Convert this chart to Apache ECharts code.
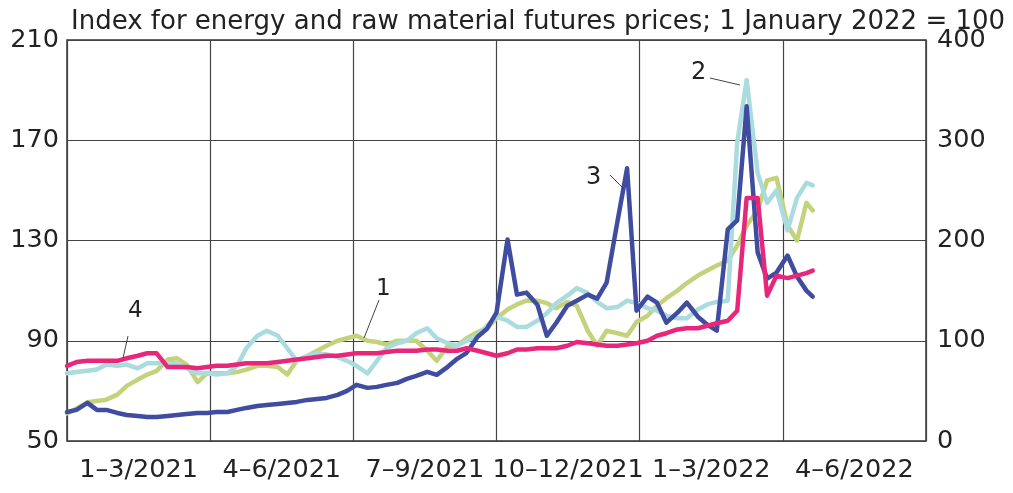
<!DOCTYPE html>
<html>
<head>
<meta charset="utf-8">
<script src="https://cdn.jsdelivr.net/npm/echarts@6/dist/echarts.min.js"></script>
<style>
html,body{margin:0;padding:0;background:#fff;}
#chart{width:1013px;height:493px;}
</style>
</head>
<body>
<div id="chart"></div>
<script>
// Quarter labels (category axis)
const quarters = ['1–3/2021','4–6/2021','7–9/2021','10–12/2021','1–3/2022','4–6/2022'];
// Left axis ticks / right axis ticks
const leftTicks = {min:50, max:210, interval:40};
const rightTicks = {min:0, max:400, interval:100};
// Days since 1 January 2021 (6 quarters ≈ 546 days)
const days = [0,6,13,19,25,32,38,45,51,57,64,70,76,83,89,95,102,108,114,121,127,134,140,146,153,159,165,172,178,184,191,197,203,210,216,222,229,235,242,248,254,261,267,273,280,286,292,299,305,311,318,324,331,337,343,350,356,362,369,375,381,388,394,401,407,413,420,426,432,439,445,451,458,464,470,474];
// Series 1 (left axis)
const s1 = [61,63,65.5,66,66.5,68.5,72,74.5,76.5,78,82.5,83,80.5,73.5,77,77,77,77.5,78.5,80,80,79.5,76.5,82,84,86,88,90,91,92,90,89.5,88.5,90,90,90,86,82,88,88,91,93.5,95,99,102.5,104.5,106,106,105,103,105.5,104,94,88,94,93,92,97.5,100,104,107,110,113,116,118,120,122,128,136,142,154,155,136,130,145,142];
// Series 2 (left axis)
const s2 = [77,77.5,78,78.5,80.5,80,80.5,79,81,81,81,81,79,77,77,76.5,77,80,87,92,94,92,87,82,84,85,84.5,83.5,82,80,77,82,87,89,90,93,95,91,89,88,90,92,96,99.5,98,95.5,95.5,98,101,105,108,111,109,105.5,103,103.5,106,105,103,102,100,99,99,102.5,104.5,105.5,106,169,194,157,145,150,134,147,153,152];
// Series 3 (right axis)
const s3 = [29,31,38,31,31,28,26,25,24,24,25,26,27,28,28,29,29,31,33,35,36,37,38,39,41,42,43,46,50,56,53,54,56,58,62,65,69,66,74,82,88,104,112,128,201,146,148,136,105,118,135,140,146,142,158,220,272,130,144,138,118,128,138,124,116,110,211,220,334,188,162,168,185,164,150,144];
// Series 4 (left axis)
const s4 = [80,81.5,82,82,82,82,83,84,85,85,79.5,79.5,79.5,79,79.5,80,80,80.5,81,81,81,81.5,82,82.5,83,83.5,84,84,84.5,85,85,85,85.5,86,86,86,86.5,86.5,86,86,87,86,85,84,85,86.5,86.5,87,87,87,88,89.5,89,88.5,88,88,88.5,89,90,92,93,94.5,95,95,96,97,98,102,147,147,108,116,115,116,117,118];

const colors = {s1:'#c3d37c', s2:'#a9dbdf', s3:'#3f4ca0', s4:'#e8267a'};
const FONT = 'DejaVu Sans';

const chart = echarts.init(document.getElementById('chart'));
function pairs(v){ return days.map((d,i)=>[d, v[i]]); }
function line(name, data, color, yIdx){
  return {name, type:'line', xAxisIndex:1, yAxisIndex:yIdx, data:pairs(data), symbol:'none',
    lineStyle:{color, width:4.5, join:'round', cap:'round'}, itemStyle:{color}, animation:false, z:2};
}
chart.setOption({
  animation:false,
  title:{text:'Index for energy and raw material futures prices; 1 January 2022 = 100', left:66, top:4,
    textStyle:{fontSize:26, fontWeight:'normal', color:'#222', fontFamily:FONT}},
  grid:{left:67, right:87, top:40, bottom:52, show:true, borderColor:'#333', borderWidth:1.5, backgroundColor:'transparent'},
  xAxis:[
    {type:'category', data:quarters, boundaryGap:true, axisTick:{show:false}, axisLine:{show:false},
     splitLine:{show:true, interval:0, lineStyle:{color:'#444', width:1.2}},
     axisLabel:{interval:0, fontSize:25.5, color:'#222', margin:16, fontFamily:FONT}},
    {type:'value', min:0, max:546, show:false}
  ],
  yAxis:[
    {type:'value', min:leftTicks.min, max:leftTicks.max, interval:leftTicks.interval, position:'left',
     axisLine:{show:false}, axisTick:{show:false},
     splitLine:{show:true, lineStyle:{color:'#444', width:1.2}},
     axisLabel:{fontSize:25.5, color:'#222', margin:8, fontFamily:FONT}},
    {type:'value', min:rightTicks.min, max:rightTicks.max, interval:rightTicks.interval, position:'right',
     axisLine:{show:false}, axisTick:{show:false}, splitLine:{show:false},
     axisLabel:{fontSize:25.5, color:'#222', margin:11, fontFamily:FONT}}
  ],
  series:[
    line('1', s1, colors.s1, 0),
    line('2', s2, colors.s2, 0),
    line('3', s3, colors.s3, 1),
    line('4', s4, colors.s4, 0)
  ],
  graphic:[
    {type:'text', left:376, top:278, style:{text:'1', fontSize:23, fill:'#222', fontFamily:FONT}, z:10},
    {type:'line', shape:{x1:379, y1:300, x2:364, y2:338}, style:{stroke:'#444', lineWidth:1}, z:10},
    {type:'text', left:128, top:300, style:{text:'4', fontSize:23, fill:'#222', fontFamily:FONT}, z:10},
    {type:'line', shape:{x1:128, y1:336, x2:123, y2:358}, style:{stroke:'#444', lineWidth:1}, z:10},
    {type:'text', left:586, top:166, style:{text:'3', fontSize:24, fill:'#222', fontFamily:FONT}, z:10},
    {type:'line', shape:{x1:610, y1:175, x2:625, y2:190}, style:{stroke:'#444', lineWidth:1}, z:10},
    {type:'text', left:691, top:61, style:{text:'2', fontSize:24, fill:'#222', fontFamily:FONT}, z:10},
    {type:'line', shape:{x1:710, y1:78, x2:740, y2:85}, style:{stroke:'#444', lineWidth:1}, z:10}
  ]
});
</script>
</body>
</html>
